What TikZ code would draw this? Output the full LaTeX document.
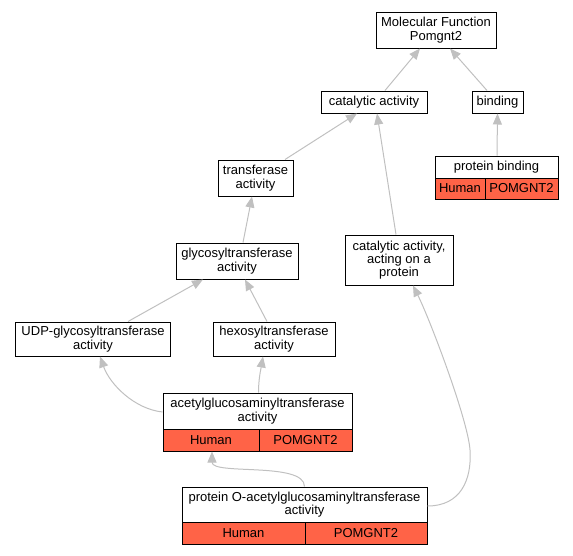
\documentclass[tikz,border=0pt]{standalone}
\usepackage{fontspec}
\setmainfont{Liberation Sans}
\usetikzlibrary{arrows.meta}
\definecolor{tomatored}{RGB}{255,99,71}
\definecolor{edgegray}{RGB}{192,192,192}
\tikzset{
  box/.style={draw=black, fill=white, line width=1pt, align=center, inner sep=0pt,
    font=\fontsize{13}{13.3}\selectfont},
  redcell/.style={box, fill=tomatored},
  isa/.style={draw=edgegray, line width=1pt, -{Triangle[length=11pt,width=9pt,fill=edgegray]}},
}
\begin{document}
\begin{tikzpicture}[x=1pt,y=-1pt]
\useasboundingbox (0,0) rectangle (573,555);
% nodes
\node[box, minimum width=120pt, minimum height=36pt] (mf) at (436,30) {Molecular Function\\Pomgnt2};
\node[box, minimum width=106pt, minimum height=22pt] (cat) at (374,102) {catalytic activity};
\node[box, minimum width=51pt, minimum height=22pt] (bind) at (497.5,102) {binding};
\node[box, minimum width=123pt, minimum height=22pt] (pb) at (496.5,167) {protein binding};
\node[redcell, minimum width=50pt, minimum height=21pt] (pbh) at (460,188.5) {Human};
\node[redcell, minimum width=73pt, minimum height=21pt] (pbg) at (521.5,188.5) {POMGNT2};
\node[box, minimum width=75pt, minimum height=36pt] (trans) at (255.5,178) {transferase\\activity};
\node[box, minimum width=122pt, minimum height=36pt] (glyco) at (237,261) {glycosyltransferase\\activity};
\node[box, minimum width=108pt, minimum height=50pt] (cap) at (399,260) {catalytic activity,\\acting on a\\protein};
\node[box, minimum width=155pt, minimum height=34pt] (udp) at (93,339) {UDP-glycosyltransferase\\activity};
\node[box, minimum width=122pt, minimum height=34pt] (hexo) at (274,339) {hexosyltransferase\\activity};
\node[box, minimum width=189pt, minimum height=36pt] (ac) at (257.5,411) {acetylglucosaminyltransferase\\activity};
\node[redcell, minimum width=96pt, minimum height=22pt] (ach) at (211,440) {Human};
\node[redcell, minimum width=93pt, minimum height=22pt] (acg) at (305.5,440) {POMGNT2};
\node[box, minimum width=245pt, minimum height=35pt] (po) at (304.5,504.5) {protein O-acetylglucosaminyltransferase\\activity};
\node[redcell, minimum width=123pt, minimum height=22pt] (poh) at (243.5,533) {Human};
\node[redcell, minimum width=122pt, minimum height=22pt] (pog) at (366,533) {POMGNT2};
% edges
\draw[isa] ([xshift=11pt]cat.north) -- ([xshift=-16pt]mf.south);
\draw[isa] ([xshift=-10.5pt]bind.north) -- ([xshift=14pt]mf.south);
\draw[isa] ([xshift=0.5pt]pb.north) -- (bind.south);
\draw[isa] ([xshift=29.5pt]trans.north) -- ([xshift=-17pt]cat.south);
\draw[isa] ([xshift=-3pt]cap.north) -- ([xshift=3pt]cat.south);
\draw[isa] ([xshift=6pt]glyco.north) -- ([xshift=-3.5pt]trans.south);
\draw[isa] ([xshift=35pt]udp.north) -- ([xshift=-34pt]glyco.south);
\draw[isa] ([xshift=-7pt]hexo.north) -- ([xshift=8pt]glyco.south);
\draw[isa] ([yshift=-1pt]ac.west) .. controls +(-28,-3) and +(10,28) .. ([xshift=7pt]udp.south);
\draw[isa] ([xshift=1pt]ac.north) .. controls +(0,-14) and +(-2,12) .. ([xshift=-11pt]hexo.south);
\draw[isa] (po.north) .. controls +(0,-25) and +(0,24) .. ([xshift=1pt]ach.south);
\draw[isa] ([yshift=-1.5pt]po.east) .. controls +(33,0) and +(2,30) .. (470,450)
  .. controls +(-2,-30) and +(17,34) .. ([xshift=14pt]cap.south);
\end{tikzpicture}
\end{document}
